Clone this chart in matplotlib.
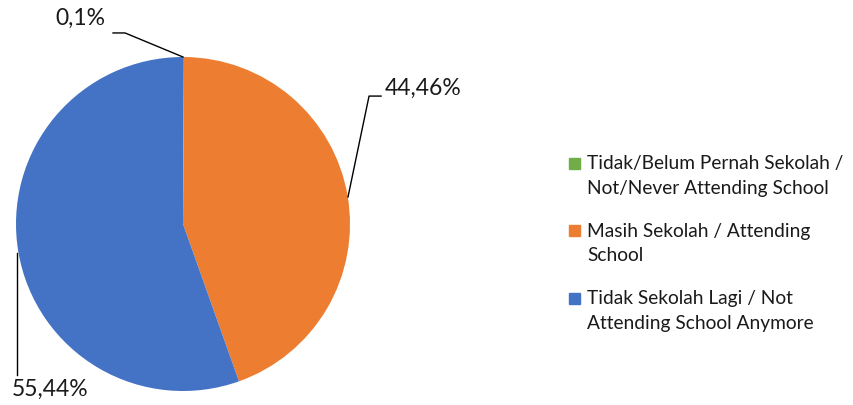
import matplotlib.pyplot as plt
from matplotlib.patches import Rectangle

labels = ["Tidak/Belum Pernah Sekolah /\nNot/Never Attending School",
          "Masih Sekolah / Attending\nSchool",
          "Tidak Sekolah Lagi / Not\nAttending School Anymore"]
values = [0.1, 44.46, 55.44]
pct_text = ["0,1%", "44,46%", "55,44%"]
colors = ["#70AD47", "#ED7D31", "#4472C4"]

plt.rcParams['font.family'] = ['Lato', 'DejaVu Sans']

W, H = 854, 405
fig = plt.figure(figsize=(W / 100, H / 100), dpi=100)
ax = fig.add_axes([16 / W, 14 / H, 334 / W, 334 / H])
ax.pie(values, colors=colors, startangle=90, counterclock=False,
       wedgeprops=dict(linewidth=0))
ax.set_xlim(-1, 1)
ax.set_ylim(-1, 1)
ax.set_aspect('equal')
ax.axis('off')

# leader lines and data labels
leaders = [
    ([0.0, -0.347, -0.419], [1.0, 1.144, 1.144]),
    ([0.988, 1.114, 1.186], [0.162, 0.766, 0.766]),
    ([-0.994, -0.994], [-0.174, -0.904]),
]
label_pos = [(-0.617, 1.234, 'center'), (1.21, 0.814, 'left'), (-0.796, -0.99, 'center')]
for (lx, ly), (tx, ty, ha), t in zip(leaders, label_pos, pct_text):
    ax.plot(lx, ly, color='black', lw=1, clip_on=False)
    ax.text(tx, ty, t, ha=ha, va='center', fontsize=16.5, color='#1a1a1a', clip_on=False)

# legend
y0 = 163
for i, (lab, c) in enumerate(zip(labels, colors)):
    yy = y0 + i * 67.5
    fig.patches.append(Rectangle((569 / W, 1 - (yy + 5.5) / H), 11 / W, 11 / H,
                                 transform=fig.transFigure, color=c, figure=fig))
    fig.text(587 / W, 1 - (yy - 8) / H, lab, ha='left', va='top', fontsize=13.8,
             color='#1a1a1a', linespacing=1.55)

fig.savefig("out.png", dpi=100)
